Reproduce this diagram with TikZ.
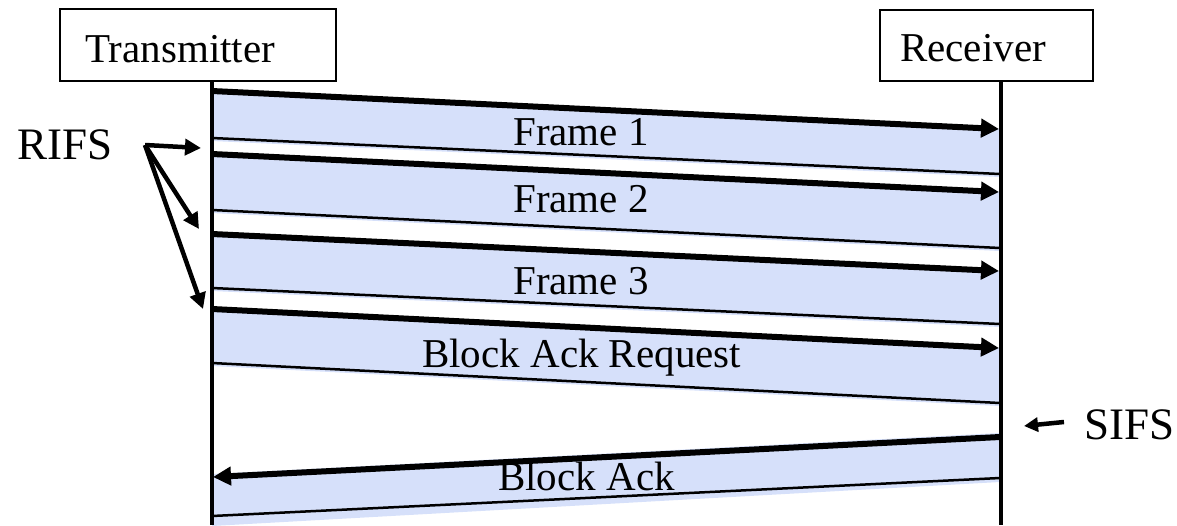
\documentclass[tikz,border=0pt]{standalone}
\usepackage{fontspec}
\setmainfont{Liberation Serif}
\usetikzlibrary{arrows.meta}
\definecolor{bandblue}{RGB}{214,224,250}
\tikzset{
  box/.style={draw=black, line width=1.8pt, fill=white, inner sep=0pt},
  lifeline/.style={line width=4.5pt},
  msg/.style={line width=6pt, -{Triangle[length=18pt,width=18pt]}},
  msgend/.style={line width=2.5pt},
  band/.style={fill=bandblue, draw=none},
  lbl/.style={anchor=base west, inner sep=0pt, font=\fontsize{41}{41}\selectfont},
  biglbl/.style={anchor=base west, inner sep=0pt, font=\fontsize{45}{45}\selectfont},
  pointer/.style={line width=4.5pt, -{Triangle[length=16pt,width=16pt]}}
}
\begin{document}
\begin{tikzpicture}[x=1pt,y=-1pt]
\useasboundingbox (0,0) rectangle (1177,525);
% boxes
\node[box, minimum width=276pt, minimum height=72pt] (T) at (198,45) {};
\node[lbl] (Tt) at (85,62) {Transmitter};
\node[box, minimum width=213pt, minimum height=71pt] (R) at (986.5,45.5) {};
\node[lbl] (Rt) at (900,61) {Receiver};
% lifeline coordinates
\coordinate (tx) at (212,81);
\coordinate (rx) at (1001,81);
\coordinate (txb) at (212,525);
\coordinate (rxb) at (1001,525);
% band coordinates: start top, end top, start bottom, end bottom
\foreach \n/\a/\b/\c/\d in {f1/91/129/138/174, f2/154/192/210/248, f3/234/271/288/324, bar/309/348/363/403}{
  \coordinate (\n a) at (212,\a);
  \coordinate (\n b) at (999,\b);
  \coordinate (\n c) at (212,\c);
  \coordinate (\n d) at (1000,\d);
  \fill[bandblue] (212,\a) -- (1000,\b) -- (1000,\d+3) -- (212,\c+3) -- cycle;
}
\coordinate (baa) at (1000,437);
\coordinate (bab) at (213,477);
\coordinate (bac) at (1000,478);
\coordinate (bad) at (212,516);
\fill[bandblue] (1000,433) -- (212,474) -- (212,526) -- (1000,482) -- cycle;
% message lines
\foreach \n in {f1,f2,f3,bar}{
  \draw[msg] (\n a) -- (\n b);
  \draw[msgend] (\n c) -- (\n d);
}
\draw[msg] (baa) -- (bab);
\draw[msgend] (bac) -- (bad);
% lifelines
\draw[lifeline] (tx) -- (txb);
\draw[lifeline] (rx) -- (rxb);
% labels
\node[lbl] (l1) at (513,145) {Frame 1};
\node[lbl] (l2) at (513,212) {Frame 2};
\node[lbl] (l3) at (513,294) {Frame 3};
\node[lbl] (l4) at (422,367) {Block Ack Request};
\node[lbl] (l5) at (498,490) {Block Ack};
% RIFS
\node[biglbl] (rifs) at (17,159) {RIFS};
\coordinate (ro) at (145,145);
\coordinate (r1) at (201,148);
\coordinate (r2) at (199,229);
\coordinate (r3) at (203,309);
\draw[pointer] (ro) -- (r1);
\draw[pointer] (ro) -- (r2);
\draw[pointer] (ro) -- (r3);
% SIFS
\node[biglbl] (sifs) at (1084,439) {SIFS};
\coordinate (so) at (1064,422);
\coordinate (st) at (1024,426);
\draw[line width=4.5pt, -{Triangle[length=14pt,width=14pt]}] (so) -- (st);
\end{tikzpicture}
\end{document}
